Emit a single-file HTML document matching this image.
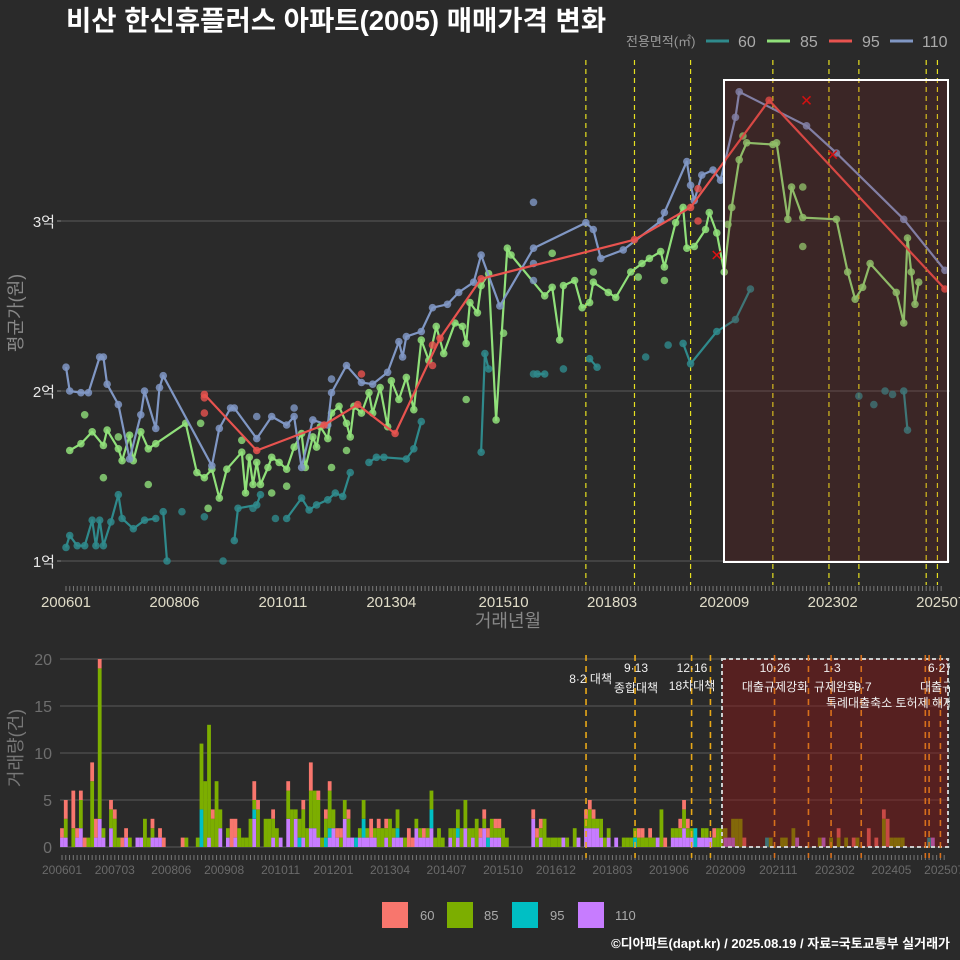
<!DOCTYPE html>
<html><head><meta charset="utf-8">
<style>
html,body{margin:0;padding:0;background:#2a2a2a;}
svg{display:block;font-family:"Liberation Sans","Noto Sans CJK KR",sans-serif;}
</style></head>
<body>
<svg id="chart" width="960" height="960" viewBox="0 0 960 960" xmlns="http://www.w3.org/2000/svg">
<rect x="0" y="0" width="960" height="960" fill="#2a2a2a"/>
<text x="66" y="30" font-size="27.5" font-weight="bold" fill="#ffffff">비산 한신휴플러스 아파트(2005) 매매가격 변화</text>
<g>
<text x="626" y="46" font-size="13" fill="#999">전용면적(㎡)</text>
<line x1="706" y1="41" x2="729" y2="41" stroke="#2f8a8c" stroke-width="3"/>
<text x="738" y="47" font-size="16" fill="#aaa">60</text>
<line x1="767" y1="41" x2="790" y2="41" stroke="#90e07a" stroke-width="3"/>
<text x="800" y="47" font-size="16" fill="#aaa">85</text>
<line x1="829" y1="41" x2="852" y2="41" stroke="#e8534f" stroke-width="3"/>
<text x="862" y="47" font-size="16" fill="#aaa">95</text>
<line x1="890" y1="41" x2="913" y2="41" stroke="#8097c4" stroke-width="3"/>
<text x="922" y="47" font-size="16" fill="#aaa">110</text>
</g>
<g id="topChart"></g>
<g id="botChart"></g>
<text transform="translate(22,313) rotate(-90)" text-anchor="middle" font-size="18" fill="#888">평균가(원)</text>
<text x="508" y="627" text-anchor="middle" font-size="18" fill="#888">거래년월</text>
<text transform="translate(22,748) rotate(-90)" text-anchor="middle" font-size="18" fill="#777">거래량(건)</text>
<g>
<rect x="382" y="902" width="26" height="26" fill="#f8766d"/>
<text x="420" y="920" font-size="13" fill="#aaa">60</text>
<rect x="447" y="902" width="26" height="26" fill="#7cae00"/>
<text x="484" y="920" font-size="13" fill="#aaa">85</text>
<rect x="512" y="902" width="26" height="26" fill="#00bfc4"/>
<text x="550" y="920" font-size="13" fill="#aaa">95</text>
<rect x="578" y="902" width="26" height="26" fill="#c77cff"/>
<text x="615" y="920" font-size="13" fill="#aaa">110</text>
</g>
<text x="950" y="948" text-anchor="end" font-size="13" font-weight="bold" fill="#fff">©디아파트(dapt.kr) / 2025.08.19 / 자료=국토교통부 실거래가</text>
</svg>
<script>
// ---- price data: months since 2006-01, price in 억원 (null = line break)
const m60 = [0,1,3,5,7,8,9,10,12,14,15,18,21,24,null,26,27,null,45,46,51,52,null,59,63,65,67,70,72,74,76,null,81,83,85,91,93,95,null,111,112,113,null,126,128,null,140,142,null,165,167,174,179,183,null,224,225];
const v60 = [1.08,1.15,1.09,1.09,1.24,1.09,1.24,1.09,1.23,1.39,1.25,1.19,1.24,1.25,null,1.29,1.0,null,1.12,1.31,1.33,1.39,null,1.25,1.37,1.30,1.33,1.36,1.40,1.38,1.52,null,1.58,1.61,1.61,1.60,1.66,1.82,null,1.64,2.22,2.13,null,2.10,2.10,null,2.19,2.14,null,2.28,2.16,2.35,2.42,2.60,null,2.0,1.77];
const e60m = [31,37,42,50,56,125,133,155,161,212,216,219,221];
const e60v = [1.29,1.26,1.0,1.31,1.25,2.10,2.13,2.20,2.27,1.97,1.92,2.0,1.98];

const m85 = [1,4,7,10,11,14,15,17,18,20,22,24,32,35,37,39,41,43,47,48,49,50,51,52,54,55,57,59,61,63,64,66,67,68,70,71,73,75,76,77,79,81,82,84,86,87,89,91,93,95,97,99,101,104,106,107,108,110,111,113,115,118,119,128,130,132,133,136,138,140,141,145,147,151,154,156,159,160,163,165,166,168,171,172,174,176,178,180,182,189,190,193,194,197,206,209,211,213,215,222,224,225,226,227,228];
const v85 = [1.65,1.69,1.76,1.68,1.77,1.66,1.59,1.74,1.59,1.76,1.66,1.69,1.81,1.52,1.49,1.54,1.37,1.54,1.64,1.40,1.61,1.45,1.58,1.45,1.55,1.61,1.58,1.54,1.67,1.75,1.55,1.73,1.67,1.79,1.72,1.87,1.91,1.81,1.73,1.91,1.87,1.99,1.87,2.02,1.79,2.06,1.95,2.08,1.89,2.30,2.18,2.38,2.22,2.40,2.38,2.28,2.52,2.46,2.62,2.69,1.83,2.84,2.80,2.56,2.61,2.30,2.62,2.65,2.49,2.52,2.64,2.58,2.55,2.70,2.75,2.78,2.82,2.73,2.99,3.08,2.84,2.85,2.95,3.05,2.93,2.70,3.08,3.36,3.46,3.45,3.46,3.01,3.20,3.02,3.01,2.70,2.54,2.61,2.75,2.58,2.40,2.90,2.70,2.51,2.64];
const e85m = [5,10,14,22,36,38,47,55,59,71,75,107,117,130,141,153,160,177,181,197,197];
const e85v = [1.86,1.49,1.73,1.45,1.81,1.31,1.71,1.40,1.44,1.55,1.65,1.95,2.34,2.81,2.70,2.67,2.65,2.98,3.50,3.20,2.85];

const m95 = [37,51,69,78,88,100,111,152,167,188,235];
const v95 = [1.98,1.65,1.80,1.92,1.75,2.31,2.66,2.89,3.08,3.71,2.60];
const e95m = [37,37,79,98,98,169,169];
const e95v = [1.96,1.87,2.10,2.27,2.15,3.19,3.00];
const x95m = [174,198,205];
const x95v = [2.80,3.71,3.39];

const m110 = [0,1,4,6,9,10,11,14,17,20,21,24,25,26,39,41,44,45,51,55,59,61,63,66,70,71,75,79,82,86,89,90,91,95,98,102,105,109,111,116,125,139,141,143,149,159,160,166,167,168,170,173,175,179,180,198,206,224,235];
const v110 = [2.14,2.00,1.99,1.99,2.20,2.20,2.04,1.92,1.60,1.86,2.00,1.78,2.02,2.09,1.56,1.78,1.90,1.90,1.72,1.85,1.80,1.85,1.55,1.83,1.80,1.99,2.15,2.05,2.04,2.11,2.29,2.20,2.32,2.35,2.49,2.51,2.58,2.64,2.80,2.50,2.84,2.99,2.95,2.78,2.83,3.00,3.05,3.35,3.21,3.12,3.27,3.30,3.24,3.61,3.76,3.56,3.40,3.01,2.71];
const e110m = [125,125,125,71,51,61];
const e110v = [3.11,2.75,2.65,2.07,1.85,1.90];

const priceTicks = [1,2,3];
const priceTickLabels = ['1억','2억','3억'];
const topXTickMonths = [0,29,58,87,117,146,176,205,234];
const topXTickLabels = ['200601','200806','201011','201304','201510','201803','202009','202302','202507'];
const policyMonthsTop = [139,152,167,189,204,212,230,233];

// ---- volume data: [month, n60, n85, n95, n110]
const months = 235;
const volRows = [
[0,1,0,0,1],[1,2,2,0,1],[3,4,2,0,0],[4,1,0,0,1],[5,1,3,0,2],[6,1,0,0,0],[7,0,1,0,0],[8,2,7,0,0],[9,2,0,0,1],[10,1,16,0,3],[11,0,1,0,1],[13,1,2,0,2],[14,1,3,0,0],[15,0,1,0,0],[16,1,0,0,0],[17,1,0,0,1],[18,0,1,0,0],[20,0,0,0,1],[21,0,0,0,1],[22,0,3,0,0],[23,0,1,0,0],[24,1,1,0,1],[25,0,0,0,1],[26,1,0,0,1],[27,1,0,0,0],[32,1,0,0,0],[33,0,1,0,0],[36,0,1,0,0],[37,0,7,4,0],[38,0,7,0,0],[39,0,12,0,1],[40,1,3,0,0],[41,0,7,0,0],[42,0,2,0,2],[44,0,1,0,1],[45,3,0,0,0],[46,2,0,0,1],[47,0,2,0,0],[48,0,1,0,0],[49,0,1,0,0],[50,0,3,0,0],[51,2,1,1,3],[52,1,4,0,0],[54,0,3,0,0],[55,0,3,0,0],[56,1,2,0,1],[57,0,2,0,0],[58,0,0,0,1],[60,1,3,0,3],[61,0,4,0,0],[62,0,1,0,3],[63,0,2,1,0],[64,1,3,0,1],[65,0,2,0,0],[66,3,4,0,2],[67,0,4,0,2],[68,1,4,0,1],[69,0,1,0,0],[70,1,2,1,0],[71,1,4,1,1],[72,0,2,0,2],[73,1,0,0,1],[74,1,1,0,0],[75,0,2,0,3],[76,1,2,0,1],[77,0,0,0,1],[78,0,0,1,0],[79,0,1,0,1],[80,0,2,2,1],[81,0,1,0,1],[82,2,0,0,1],[83,0,1,0,1],[84,1,2,0,0],[85,0,2,0,0],[86,1,1,0,1],[87,0,3,0,0],[88,0,1,0,1],[89,0,2,1,1],[90,0,0,0,1],[91,0,1,0,0],[92,2,0,0,0],[93,1,0,0,0],[94,0,1,0,2],[95,0,1,0,1],[96,1,0,0,1],[97,0,1,0,1],[98,0,2,2,2],[99,0,1,0,0],[100,0,2,0,0],[101,0,1,0,0],[103,0,1,0,1],[104,0,2,0,0],[105,0,2,1,1],[106,0,2,0,0],[107,0,3,0,2],[108,0,2,0,0],[109,0,1,0,1],[110,0,3,0,0],[111,1,0,0,1],
[112,1,1,0,2],[113,1,0,1,0],[114,0,2,0,1],[115,1,1,0,1],[116,1,1,0,1],[117,0,2,0,0],[118,0,1,0,0],[125,1,0,0,3],[126,1,1,0,0],[127,1,1,0,1],[128,0,3,0,0],[129,0,1,0,0],[130,0,1,0,0],[131,0,1,0,0],[132,0,1,0,0],[133,0,0,0,1],[134,0,1,0,0],[136,0,2,0,0],[137,0,0,0,1],[139,1,1,0,2],[140,1,2,0,2],[141,1,1,0,2],[142,0,1,0,2],[143,0,2,0,1],[144,0,1,0,0],[145,0,1,0,1],[147,0,0,0,1],[149,0,1,0,0],[150,0,1,0,0],[151,0,1,0,0],[152,0,1,1,0],[153,1,1,0,0],[154,1,1,0,0],[155,0,1,0,0],[156,1,1,0,0],[157,0,1,0,0],[158,0,0,0,1],[159,0,4,0,0],[160,1,0,0,0],[162,0,1,0,1],[163,0,1,0,1],[164,1,1,0,1],[165,1,2,0,2],[166,1,1,0,1],[167,0,1,0,1],[168,0,0,2,0],[169,0,0,0,1],[170,0,1,0,1],[171,0,1,0,1],[172,0,0,0,1],[173,1,1,0,0],[174,0,2,0,0],[175,0,2,0,0],[176,0,1,0,1],[177,0,0,0,1],[178,0,2,0,1],[179,0,3,0,0],[180,0,3,0,0],[181,1,0,0,0],[187,0,0,1,0],[188,0,1,0,0],[191,0,1,0,0],[192,0,1,0,0],[194,0,2,0,0],[195,0,0,0,1],[201,0,1,0,0],[202,0,0,0,1],[204,0,1,0,0],[206,1,1,0,0],[208,0,1,0,0],[210,1,0,0,0],[211,0,1,0,0],[214,2,0,0,0],[216,1,0,0,0],[218,1,3,0,0],[219,3,0,0,0],[220,0,1,0,0],[221,0,1,0,0],[222,0,1,0,0],[223,0,1,0,0],[230,0,0,1,0],[231,0,0,0,1]
];
const vol60 = new Array(months).fill(0), vol85 = new Array(months).fill(0), vol95 = new Array(months).fill(0), vol110 = new Array(months).fill(0);
volRows.forEach(r=>{vol60[r[0]]=r[1];vol85[r[0]]=r[2];vol95[r[0]]=r[3];vol110[r[0]]=r[4];});
const volTicks = [0,5,10,15,20];
const botXTickMonths = [0,14,29,43,58,72,87,102,117,131,146,161,176,190,205,220,234];
const botXTickLabels = ['200601','200703','200806','200908','201011','201201','201304','201407','201510','201612','201803','201906','202009','202111','202302','202405','202507'];
const policyMonthsBot = [139,152,167,172,189,198,204,212,229,230,233];

// ---- scales
const X = m => 66 + 3.74*m;
const Y = v => 561 - (v-1)*170;
const XB = m => 62 + 3.77*m;
const YB = n => 847 - 9.4*n;
const NS = 'http://www.w3.org/2000/svg';
function mk(tag, attrs, parent){const e=document.createElementNS(NS,tag);for(const k in attrs)e.setAttribute(k,attrs[k]);parent.appendChild(e);return e;}

const topG = document.getElementById('topChart');
const botG = document.getElementById('botChart');
const ok = v => v!==null && v!==undefined && !isNaN(v);

priceTicks.forEach((t,i)=>{
  const g = mk('line',{x1:60,x2:950,y1:Y(t),y2:Y(t),stroke:'#5a5a5a','stroke-width':1},topG);
  
  
  const tk = mk('line',{x1:57,x2:61,y1:Y(t),y2:Y(t),stroke:'#888'},topG);
  
  
  const tx = mk('text',{x:55,y:Y(t)+6,'text-anchor':'end','font-size':15,fill:'#e8e8e8'},topG);
  tx.textContent = priceTickLabels[i];
  
  
});
for(let m=0;m<months;m++){
  const t = mk('line',{x1:X(m),x2:X(m),y1:586,y2:591,stroke:'#777','stroke-width':1},topG);
  
  
}
topXTickMonths.forEach((m,i)=>{
  const t = mk('text',{x:X(m),y:607,'text-anchor':'middle','font-size':15,fill:'#e0dcc8'},topG);
  t.textContent = topXTickLabels[i];
  
  
});
policyMonthsTop.forEach(m=>{
  const l = mk('line',{x1:X(m),x2:X(m),y1:60,y2:585,stroke:'#e6e020','stroke-width':1.2,'stroke-dasharray':'5,4'},topG);
  
  
});
function drawSeries(ms,vs,color,name){
  let d='',pen=false;
  ms.forEach((m,i)=>{ if(!ok(m)||!ok(vs[i])){pen=false;return;} d+=(pen?'L':'M')+X(m).toFixed(1)+','+Y(vs[i]).toFixed(1); pen=true;});
  const p = mk('path',{d:d,fill:'none',stroke:color,'stroke-width':2.2,'stroke-linejoin':'round'},topG);
  
  
  ms.forEach((m,i)=>{ if(!ok(m)||!ok(vs[i])) return;
    const c = mk('circle',{cx:X(m),cy:Y(vs[i]),r:3.8,fill:color,'fill-opacity':0.85},topG);
    
    
  });
}
function drawDots(ms,vs,color,name){
  ms.forEach((m,i)=>{ if(!ok(vs[i])) return;
    const c = mk('circle',{cx:X(m),cy:Y(vs[i]),r:3.8,fill:color,'fill-opacity':0.8},topG);
    
    
  });
}
drawDots(e60m,e60v,'#2f8a8c','60');
drawSeries(m60,v60,'#2f8a8c','60');
drawDots(e85m,e85v,'#90e07a','85');
drawSeries(m85,v85,'#90e07a','85');
drawDots(e110m,e110v,'#8097c4','110');
drawSeries(m110,v110,'#8097c4','110');
drawDots(e95m,e95v,'#e8534f','95');
drawSeries(m95,v95,'#e8534f','95');
x95m.forEach((m,i)=>{
  const x=X(m),y=Y(x95v[i]);
  const p = mk('path',{d:`M${x-4},${y-4}L${x+4},${y+4}M${x-4},${y+4}L${x+4},${y-4}`,stroke:'#e01010','stroke-width':1.5},topG);
  
  
});
const hb = mk('rect',{x:724,y:80,width:224,height:482,fill:'rgba(140,20,20,0.18)',stroke:'#ffffff','stroke-width':2},topG);



// ---- bottom chart
volTicks.forEach(t=>{
  const g = mk('line',{x1:60,x2:950,y1:YB(t),y2:YB(t),stroke:'#5a5a5a','stroke-width':1},botG);
  
  
  const tx = mk('text',{x:52,y:YB(t)+6,'text-anchor':'end','font-size':16,fill:'#6e6e6e'},botG);
  tx.textContent = t;
  
  
});
for(let m=0;m<months;m++){
  const t = mk('line',{x1:XB(m),x2:XB(m),y1:855,y2:860,stroke:'#777','stroke-width':1},botG);
  
  
}
botXTickMonths.forEach((m,i)=>{
  const t = mk('text',{x:XB(m),y:874,'text-anchor':'middle','font-size':12,fill:'#6a6a6a'},botG);
  t.textContent = botXTickLabels[i];
  
  
});
const stackSeries = [[vol110,'#c77cff','110'],[vol95,'#00bfc4','95'],[vol85,'#7cae00','85'],[vol60,'#f8766d','60']];
for(let m=0;m<months;m++){
  let base=0;
  stackSeries.forEach(s=>{
    const n=s[0][m]; if(!n) return;
    const r = mk('rect',{x:XB(m)-1.9,y:YB(base+n),width:3.8,height:YB(base)-YB(base+n),fill:s[1]},botG);
    
    
    base+=n;
  });
}
const bb = mk('rect',{x:722,y:659,width:226,height:188,fill:'rgba(140,20,20,0.45)',stroke:'#cccccc','stroke-width':2,'stroke-dasharray':'4,3'},botG);


policyMonthsBot.forEach(m=>{
  const inside = XB(m)>722;
  const l = mk('line',{x1:XB(m),x2:XB(m),y1:655,y2:858,stroke:inside?'#d8701c':'#e8a818','stroke-width':1.6,'stroke-dasharray':'6,5'},botG);
  
  
});
const ann = [
 [612,683,'end','8·2 대책'],[636,672,'middle','9·13'],[636,692,'middle','종합대책'],
 [692,672,'middle','12·16'],[692,690,'middle','18차대책'],
 [775,672,'middle','10·26'],[775,691,'middle','대출규제강화'],
 [832,672,'middle','1·3'],[836,691,'middle','규제완화'],[863,691,'middle','9·7'],
 [890,707,'middle','특례대출축소 토허제 해제'],[940,672,'middle','6·27'],[920,691,'start','대출규제']
];
const clip = mk('clipPath',{id:'annclip'},botG);
mk('rect',{x:0,y:0,width:950,height:960},clip);
const ag = mk('g',{'clip-path':'url(#annclip)'},botG);
ann.forEach(a=>{
  const t = mk('text',{x:a[0],y:a[1],'text-anchor':a[2],'font-size':12,fill:'#f0f0f0'},ag);
  t.textContent = a[3];
  
  
});
</script>
</body></html>
